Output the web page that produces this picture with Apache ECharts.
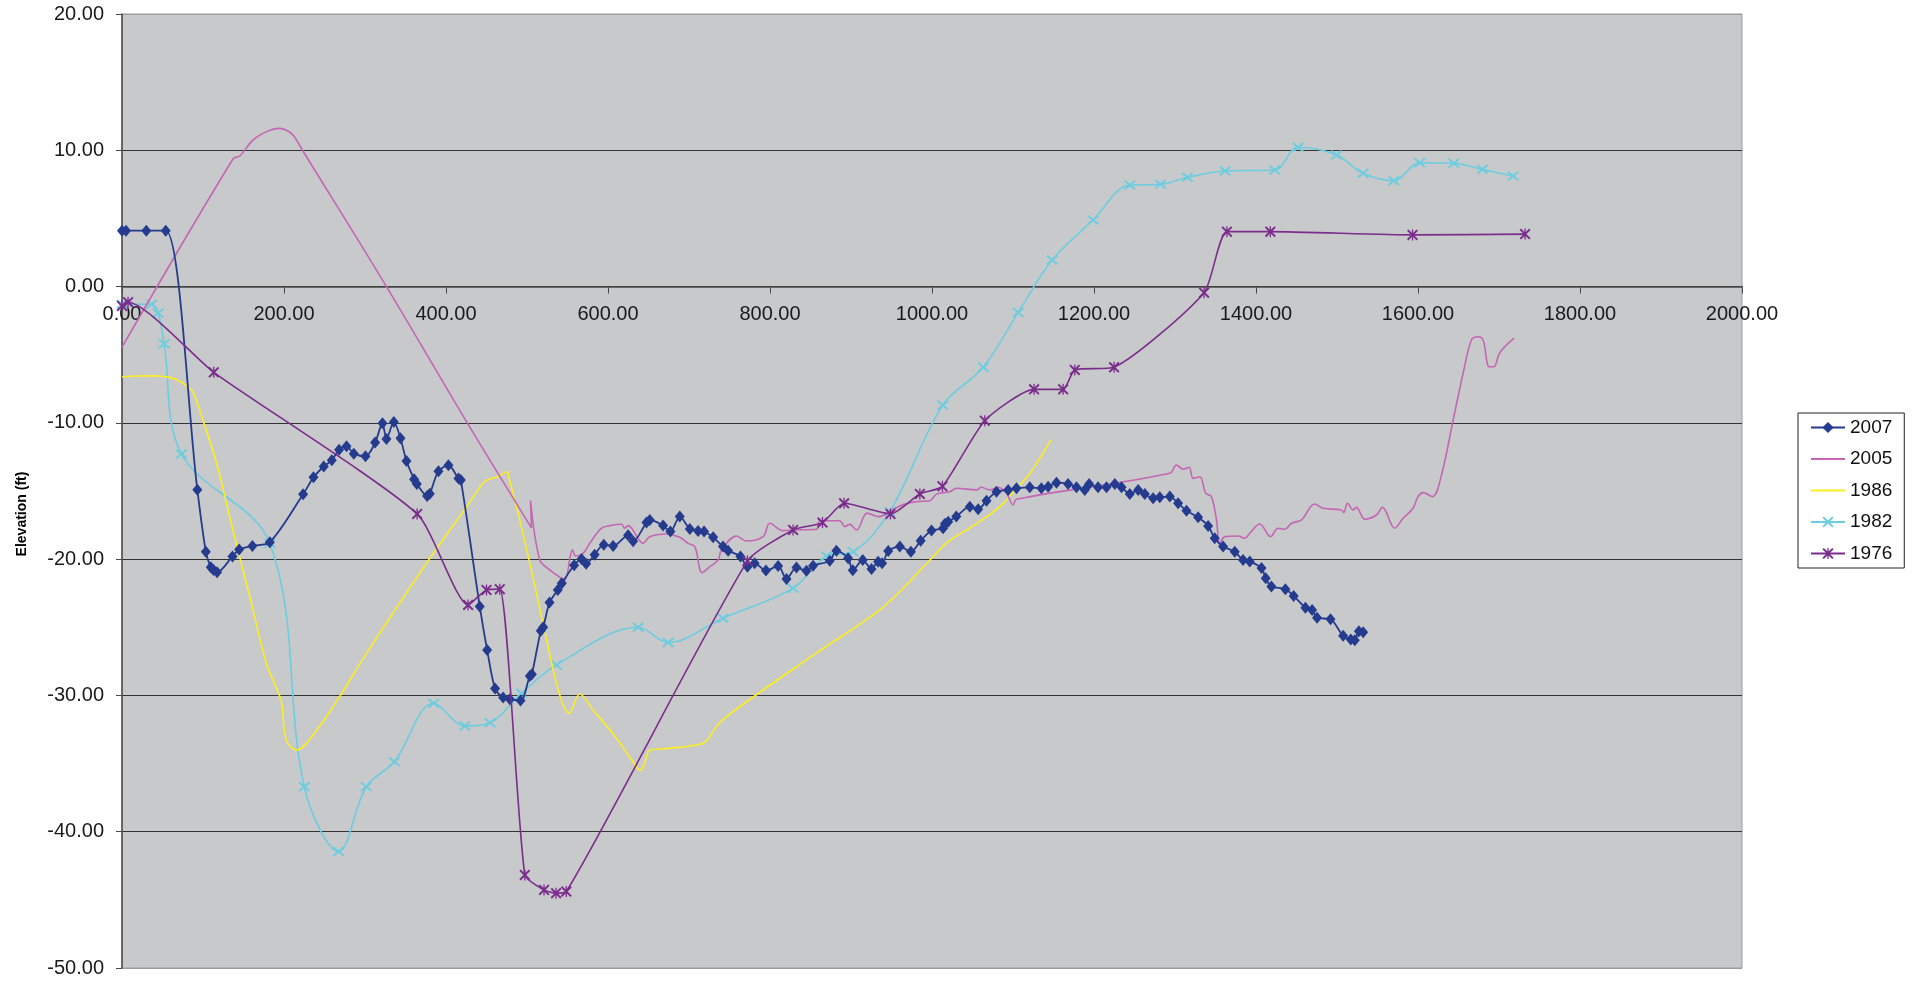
<!DOCTYPE html>
<html>
<head>
<meta charset="utf-8">
<script src="https://cdn.jsdelivr.net/npm/echarts/dist/echarts.min.js"></script>
<style>
html,body{margin:0;padding:0;background:#fff;}
#chart{width:1921px;height:983px;}
</style>
</head>
<body>
<div id="chart"></div>
<script>
// ---- Data (distance ft, elevation ft) ----
const seriesNames = ['2007', '2005', '1986', '1982', '1976'];
const xTicks = [0, 200, 400, 600, 800, 1000, 1200, 1400, 1600, 1800, 2000];
const yTicks = [-50, -40, -30, -20, -10, 0, 10, 20];
const yAxisTitle = 'Elevation (ft)';

const data2007 = [[0,4.1],[5,4.1],[30,4.1],[54,4.1],[93,-14.9],[103.5,-19.45],[109.6,-20.6],[113,-20.8],[117.4,-20.96],[136.4,-19.8],[144.6,-19.3],[161,-19.03],[182.5,-18.76],[223.6,-15.24],[236.4,-14.0],[249.1,-13.2],[259,-12.75],[268,-11.97],[277.2,-11.72],[286.2,-12.26],[300.6,-12.45],[312.5,-11.45],[321.6,-10.03],[326.5,-11.18],[335.6,-9.93],[343.8,-11.13],[351.2,-12.8],[360.6,-14.14],[364,-14.48],[376.7,-15.36],[380,-15.2],[390.7,-13.55],[403,-13.11],[415.4,-14.09],[418.3,-14.19],[441.7,-23.48],[450.8,-26.66],[460.6,-29.5],[470.5,-30.16],[478.8,-30.28],[492,-30.38],[503.5,-28.57],[506,-28.45],[517,-25.25],[520,-25.0],[527.8,-23.19],[538,-22.26],[543,-21.77],[558.2,-20.45],[567.3,-19.99],[573,-20.33],[583.5,-19.67],[594.8,-18.94],[606.3,-19.03],[624.8,-18.25],[631,-18.69],[647.5,-17.32],[651.6,-17.12],[668,-17.54],[677,-17.98],[688.6,-16.88],[701,-17.78],[711.2,-17.93],[718.6,-17.98],[729.8,-18.4],[742,-19.08],[748.3,-19.38],[763.5,-19.81],[772.2,-20.55],[781,-20.3],[795,-20.84],[810,-20.5],[820.4,-21.45],[832.7,-20.61],[845,-20.86],[853.2,-20.48],[873.8,-20.11],[882,-19.38],[896.4,-19.93],[902.2,-20.82],[914.5,-20.07],[925.3,-20.72],[933.5,-20.2],[938.4,-20.3],[946,-19.4],[960.3,-19.08],[974,-19.45],[986,-18.65],[999.4,-17.9],[1013.7,-17.74],[1016,-17.4],[1020,-17.25],[1030,-16.88],[1046.7,-16.15],[1057,-16.34],[1067.3,-15.71],[1079.6,-15.05],[1094,-14.92],[1104.3,-14.8],[1120.7,-14.73],[1135,-14.8],[1143.4,-14.68],[1153.7,-14.39],[1168,-14.48],[1178.4,-14.73],[1188.6,-14.92],[1194,-14.48],[1205,-14.73],[1215.4,-14.73],[1225.7,-14.48],[1234,-14.73],[1244.2,-15.22],[1254.5,-14.92],[1262.7,-15.22],[1273,-15.53],[1281.2,-15.46],[1293.6,-15.41],[1303.8,-15.9],[1314.2,-16.44],[1328.5,-16.93],[1340.9,-17.56],[1349,-18.47],[1359.4,-19.08],[1373.8,-19.45],[1384,-20.06],[1392.3,-20.17],[1406.8,-20.65],[1412,-21.4],[1419,-22.0],[1436.3,-22.2],[1446.5,-22.7],[1461,-23.56],[1469.3,-23.73],[1475.4,-24.3],[1492,-24.41],[1507.6,-25.63],[1517,-25.9],[1522,-25.95],[1527,-25.3],[1532.3,-25.36]];

const data2005 = [[0,-4.45],[137.2,9.38],[145.4,9.58],[161.9,10.76],[178.4,11.37],[194.8,11.61],[203,11.47],[211.2,11.12],[222.8,10.0],[326.5,0],[425.3,-9.91],[505.5,-17.7],[504.4,-15.7],[515.8,-20.06],[528.1,-20.79],[540.5,-21.33],[546.7,-21.53],[556.1,-19.32],[560.2,-19.77],[569.3,-19.57],[577.5,-18.84],[592,-17.73],[602.2,-17.54],[616.7,-17.44],[620.7,-17.73],[624.8,-17.54],[643.3,-18.84],[651.6,-18.35],[672.2,-18.15],[688.6,-18.4],[698.9,-18.84],[707.2,-19.08],[716.2,-20.99],[725.7,-20.55],[735.9,-20.06],[740.1,-19.32],[758.6,-18.3],[770.9,-18.67],[791.5,-18.35],[799.8,-17.37],[816.2,-17.91],[828.5,-17.86],[857.4,-17.81],[861.5,-17.18],[886.2,-17.18],[892.3,-17.61],[898.5,-17.45],[906.8,-17.86],[920,-16.62],[934.5,-16.88],[950,-16.42],[964.3,-16.0],[980.8,-15.78],[997.3,-15.71],[1005.6,-15.23],[1022,-15.05],[1030.3,-14.8],[1055,-14.92],[1061,-14.73],[1071.4,-14.92],[1081.6,-14.73],[1092,-15.17],[1100.2,-16.02],[1104.3,-15.61],[1293.6,-13.7],[1301.8,-13.09],[1310,-13.4],[1317.4,-13.26],[1322.3,-14.07],[1330.6,-13.95],[1338,-15.17],[1345,-15.41],[1351.2,-17.12],[1355.3,-18.84],[1361.5,-18.35],[1378,-18.3],[1386.2,-18.47],[1392.3,-18.1],[1404.7,-17.42],[1417.9,-18.35],[1427.3,-17.73],[1435.6,-17.81],[1443.8,-17.37],[1456.1,-17.12],[1472.5,-15.95],[1482.8,-16.27],[1505.5,-16.39],[1508.4,-16.59],[1512.9,-15.9],[1519.9,-16.39],[1524,-16.2],[1534.3,-17.07],[1548.7,-16.76],[1556.1,-16.2],[1571.3,-17.73],[1581.6,-17.0],[1593.9,-16.27],[1600,-15.41],[1606.3,-15.12],[1617.9,-15.41],[1629,-13.82],[1643.4,-9.79],[1655.7,-6.36],[1666,-3.92],[1674.2,-3.68],[1680.4,-3.92],[1687.8,-5.88],[1693.6,-5.88],[1701,-4.85],[1718.6,-3.79]];

const data1986 = [[0,-6.62],[20,-6.56],[40,-6.55],[59,-6.66],[68,-6.85],[78,-7.2],[88,-7.8],[100,-9.8],[117,-13.0],[137,-17.9],[158,-22.8],[178,-27.6],[193,-29.8],[197,-30.5],[203,-33.3],[215,-34.0],[228,-33.5],[261,-30.8],[302,-26.9],[343,-23.2],[384,-19.6],[425,-16.2],[448,-14.3],[464,-13.95],[475,-13.6],[478,-14.1],[491,-17.1],[508,-21.5],[524,-25.9],[541,-30.1],[552,-31.3],[565,-29.9],[582,-31.1],[610,-33.1],[629,-34.7],[640,-35.5],[645,-35.0],[652,-34.0],[672,-33.9],[713,-33.6],[722,-33.3],[738,-32.0],[775,-30.3],[857,-26.9],[940,-23.5],[997,-20.1],[1018,-18.8],[1055,-17.4],[1084,-16.15],[1097,-15.3],[1121,-13.7],[1133,-12.6],[1147,-11.25]];

const data1982 = [[0,-1.3],[36.4,-1.3],[44.6,-1.96],[52,-4.2],[73.4,-12.28],[182.5,-18.84],[225,-36.7],[267.4,-41.46],[301.6,-36.7],[336.3,-34.86],[384.8,-30.57],[423.3,-32.24],[454.5,-32.0],[493.2,-29.84],[536.4,-27.76],[637.2,-25.0],[674.2,-26.12],[742,-24.34],[828.5,-22.13],[869.7,-19.77],[902.6,-19.45],[948,-16.5],[1013.3,-8.7],[1063.3,-5.92],[1106.3,-1.91],[1148.3,1.95],[1198.9,4.89],[1244.2,7.45],[1282.1,7.5],[1315.4,8.02],[1361.9,8.48],[1423.2,8.55],[1452,10.22],[1499.4,9.66],[1532.2,8.31],[1570.1,7.77],[1602.2,9.09],[1644.2,9.05],[1679.6,8.6],[1717.4,8.11]];

const data1976 = [[0,-1.42],[7.5,-1.15],[113.3,-6.29],[364.4,-16.68],[427.3,-23.36],[450,-22.26],[466.4,-22.2],[497.3,-43.17],[521,-44.27],[535.9,-44.51],[548.5,-44.39],[772.2,-20.13],[828.5,-17.86],[864.8,-17.32],[891.5,-15.9],[948.7,-16.68],[985,-15.22],[1012.9,-14.66],[1065.2,-9.84],[1126,-7.54],[1161.9,-7.54],[1176.3,-6.12],[1224.8,-5.92],[1335.9,-0.45],[1364.1,4.03],[1417.7,4.03],[1593.2,3.79],[1732.2,3.85]];

const colors = ['#243B8E', '#C566B4', '#FCEE21', '#6CCDE0', '#7B2D8C'];
const FONT = '"Liberation Sans", Arial, sans-serif';

const xSymbol = 'path://M0,1.5L1.5,0L6,4.5L10.5,0L12,1.5L7.5,6L12,10.5L10.5,12L6,7.5L1.5,12L0,10.5L4.5,6Z';
const starSymbol = 'path://M0,1.5L1.5,0L6,4.5L10.5,0L12,1.5L7.5,6L12,10.5L10.5,12L6,7.5L1.5,12L0,10.5L4.5,6Z M5.3,0L6.7,0L6.7,12L5.3,12Z';

const GRID = {left: 122, right: 179, top: 14, bottom: 15};
const H = 983, W = 1921;
const plotH = H - GRID.top - GRID.bottom;
const yMin = yTicks[0], yMax = yTicks[yTicks.length - 1];
// shift the x axis from the bottom edge up to the y = 0 line
const xAxisOffset = -plotH * (0 - yMin) / (yMax - yMin);

const chart = echarts.init(document.getElementById('chart'), null, {renderer: 'canvas'});

function mk(name, data, color, symbol, size, width, z, smooth) {
  return {
    name: name, type: 'line', data: data, smooth: smooth,
    symbol: symbol, symbolSize: size, showSymbol: symbol !== 'none',
    lineStyle: {color: color, width: width},
    itemStyle: {color: color},
    z: z, animation: false, emphasis: {disabled: true}
  };
}

chart.setOption({
  animation: false,
  textStyle: {fontFamily: FONT},
  grid: Object.assign({show: true, backgroundColor: '#C8C9CB', borderColor: '#9C9C9C', borderWidth: 1}, GRID),
  legend: {
    orient: 'vertical', left: 1798, top: 413,
    data: [
      {name: seriesNames[0]},
      {name: seriesNames[1], itemStyle: {opacity: 0}},
      {name: seriesNames[2], itemStyle: {opacity: 0}},
      {name: seriesNames[3]},
      {name: seriesNames[4]}
    ],
    itemWidth: 34, itemHeight: 14, itemGap: 12.5,
    padding: [5, 12, 5, 12],
    borderColor: '#222', borderWidth: 1, backgroundColor: '#fff',
    textStyle: {fontFamily: FONT, fontSize: 19, color: '#111', lineHeight: 19}
  },
  graphic: [{
    type: 'text', x: 22, y: 514, rotation: Math.PI / 2,
    style: {text: yAxisTitle, font: 'bold 14px ' + FONT, fill: '#000', align: 'center', verticalAlign: 'middle'}
  }],
  xAxis: {
    type: 'value', min: xTicks[0], max: xTicks[xTicks.length - 1], interval: 200,
    position: 'bottom', offset: xAxisOffset,
    axisLine: {show: true, onZero: false, lineStyle: {color: '#4a4a4a', width: 1.5}},
    axisTick: {show: true, length: 7, lineStyle: {color: '#4a4a4a'}},
    axisLabel: {fontFamily: FONT, fontSize: 20, color: '#1a1a1a', margin: 18,
      formatter: v => v.toFixed(2)},
    splitLine: {show: false}
  },
  yAxis: {
    type: 'value', min: yMin, max: yMax, interval: 10,
    axisLine: {show: true, onZero: false, lineStyle: {color: '#4a4a4a', width: 1.5}},
    axisTick: {show: true, length: 6, lineStyle: {color: '#4a4a4a'}},
    axisLabel: {fontFamily: FONT, fontSize: 20, color: '#1a1a1a', margin: 18,
      formatter: v => v.toFixed(2)},
    splitLine: {show: true, lineStyle: {color: ['#9C9C9C','#333','#333','#333','#333','#333','#333','#9C9C9C'], width: 1}}
  },
  series: [
    mk(seriesNames[0], data2007, colors[0], 'diamond', [10, 12], 1.8, 5, 0.3),
    mk(seriesNames[1], data2005, colors[1], 'none', 0, 1.6, 4, 0.35),
    mk(seriesNames[2], data1986, colors[2], 'none', 0, 1.6, 3, 0.35),
    mk(seriesNames[3], data1982, colors[3], xSymbol, [12, 10], 1.6, 2, 0.35),
    mk(seriesNames[4], data1976, colors[4], starSymbol, [11, 11], 1.6, 6, 0.2)
  ]
});
</script>
</body>
</html>
